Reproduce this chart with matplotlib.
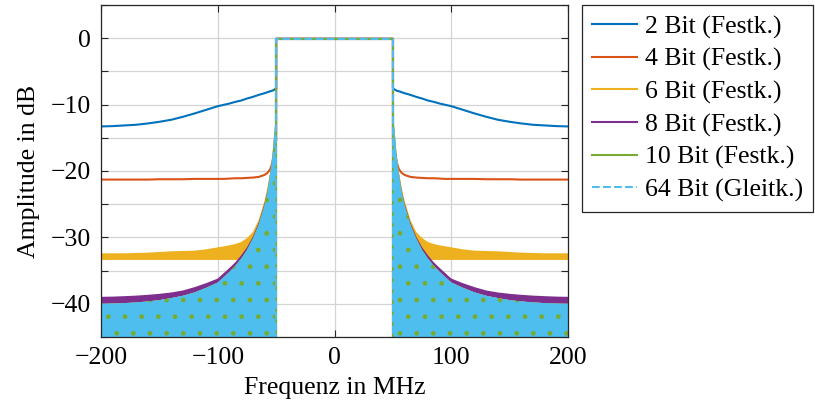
import matplotlib
matplotlib.use("Agg")
import matplotlib.pyplot as plt
import numpy as np

plt.rcParams['font.family'] = ['Liberation Serif', 'DejaVu Serif']
plt.rcParams['font.size'] = 18.5
plt.rcParams['hatch.linewidth'] = 1.0

# Frequenzpunkte im Sperrbereich (positive Seite, wird gespiegelt)
f_stop = [50.5, 51, 52, 53, 55, 57.5, 60, 65, 70, 75, 80, 85, 90, 95, 100,
          110, 120, 130, 140, 150, 160, 170, 180, 190, 200]

# 2 Bit und 4 Bit: glatte Kurven
bit2_stop = [-7.6, -7.7, -7.8, -7.9, -8.0, -8.15, -8.3, -8.55, -8.85, -9.1, -9.4, -9.6,
             -9.85, -10.05, -10.25, -10.8, -11.35, -11.85, -12.3, -12.6, -12.85, -13.05,
             -13.15, -13.25, -13.3]
bit4_stop = [-15.5, -16.0, -17.6, -18.6, -19.7, -20.3, -20.6, -20.9, -21.0, -21.05, -21.1,
             -21.1, -21.15, -21.2, -21.2, -21.2, -21.2, -21.25, -21.25, -21.25, -21.3,
             -21.3, -21.3, -21.3, -21.3]

# 6 Bit: Band (oben / unten)
bit6_top = [-12.0, -13.5, -15.0, -17.2, -20.0, -22.5, -24.5, -27.4, -29.2, -30.1, -30.7,
            -31.0, -31.2, -31.35, -31.5, -31.8, -32.0, -32.05, -32.1, -32.2, -32.3, -32.35,
            -32.4, -32.4, -32.4]
bit6_bot = [-13.0, -14.5, -16.0, -18.2, -21.0, -24.0, -26.0, -29.0, -31.0, -32.5, -33.4,
            -33.4, -33.4, -33.4, -33.4, -33.4, -33.4, -33.4, -33.4, -33.4, -33.4, -33.4,
            -33.4, -33.4, -33.4]

# 8 Bit: oberer Rand des Bandes
bit8_top = [-11.8, -13.2, -15.2, -17.3, -20.2, -23.0, -24.9, -27.8, -29.9, -31.5, -32.7,
            -33.75, -34.6, -35.4, -36.2, -36.9, -37.5, -38.0, -38.3, -38.5, -38.65, -38.77,
            -38.85, -38.92, -38.95]

# 10 Bit / 64 Bit: Einhuellende der Nebenkeulen
ideal_env = [-12.0, -13.4, -15.4, -17.5, -20.4, -23.2, -25.2, -28.1, -30.2, -31.9, -33.2,
             -34.3, -35.2, -36.0, -36.8, -37.6, -38.3, -38.8, -39.15, -39.45, -39.65, -39.8,
             -39.9, -39.97, -40.0]

pass_f = [-50, 50]
pass_db = [-0.1, -0.1]

labels = ['2 Bit (Festk.)', '4 Bit (Festk.)', '6 Bit (Festk.)', '8 Bit (Festk.)',
          '10 Bit (Festk.)', '64 Bit (Gleitk.)']
colors = ['#0072BD', '#D95319', '#EDB120', '#7E2F8E', '#77AC30', '#4DBEEE']

fs = np.array(f_stop)


def full_line(stop_vals):
    # linker Sperrbereich, Kante, Durchlass, Kante, rechter Sperrbereich
    v = np.array(stop_vals)
    x = np.concatenate([-fs[::-1], [pass_f[0], pass_f[0], pass_f[1], pass_f[1]], fs])
    y = np.concatenate([v[::-1], [v[0], pass_db[0], pass_db[1], v[0]], v])
    return x, y


fig = plt.figure(figsize=(8.15, 4.07), dpi=100)
ax = fig.add_axes([0.124, 0.172, 0.573, 0.816])

bottom = -60
lw = 1.5

# 2 Bit
x, y = full_line(bit2_stop)
ax.plot(x, y, color=colors[0], lw=lw, label=labels[0])
# 4 Bit
x, y = full_line(bit4_stop)
ax.plot(x, y, color=colors[1], lw=lw, label=labels[1])

# 6, 8, 10, 64 Bit: dichte Schwingung als Flaeche
bands = [(bit6_top, bit6_bot), (bit8_top, ideal_env),
         (ideal_env, [bottom] * len(fs)), (ideal_env, [bottom] * len(fs))]
for i, (top, bot) in enumerate(bands):
    c = colors[2 + i]
    for side in (-1, 1):
        xs = side * fs
        if i == 3:
            ax.fill_between(xs, bot, top, facecolor=c, edgecolor=colors[4], hatch='.',
                            linewidth=0, zorder=2 + i)
        else:
            ax.fill_between(xs, bot, top, facecolor=c, linewidth=0, zorder=2 + i)
    ls = '--' if i == 3 else '-'
    ax.plot([pass_f[0], pass_f[0], pass_f[1], pass_f[1]], [bottom, pass_db[0], pass_db[1], bottom],
            color=c, lw=lw, ls=ls, zorder=2 + i, label=labels[2 + i])

ax.set_xlim(-200, 200)
ax.set_ylim(-45, 5)
ax.set_xticks([-200, -100, 0, 100, 200])
yt = np.arange(-45, 6, 5)
ax.set_yticks(yt)
ax.set_yticklabels([('\u2212%d' % -t if t < 0 else '%d' % t) if t % 10 == 0 else '' for t in yt])
ax.grid(True, color='#d4d4d4', lw=0.9)
ax.set_axisbelow(True)
ax.tick_params(direction='in', top=True, right=True, length=5, color='#262626', pad=7)
for s in ax.spines.values():
    s.set_color('#262626')
    s.set_linewidth(0.9)
    s.set_zorder(10)

ax.set_xlabel('Frequenz in MHz', labelpad=6)
ax.set_ylabel('Amplitude in dB', labelpad=8)

leg = ax.legend(loc='upper left', bbox_to_anchor=(1.03, 1.0), borderaxespad=0,
                fancybox=False, edgecolor='#262626', framealpha=1, labelspacing=0.36,
                handlelength=1.75, handletextpad=0.3, borderpad=0.4)
leg.get_frame().set_linewidth(0.9)

fig.savefig('out.png', dpi=100)
